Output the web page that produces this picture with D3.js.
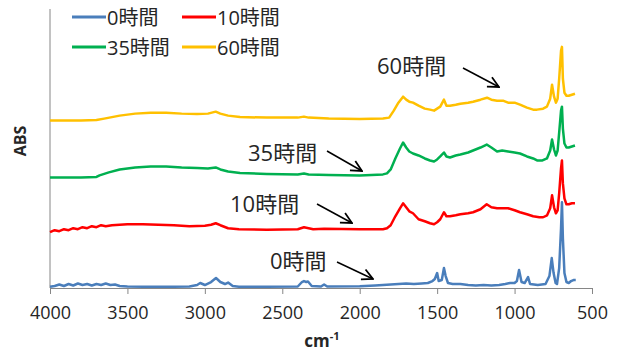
<!DOCTYPE html>
<html>
<head>
<meta charset="utf-8">
<script src="https://cdn.jsdelivr.net/npm/d3@7"></script>
<style>
  body { margin: 0; background: #fff; }
  text { font-family: "Open Sans", "Noto Sans CJK JP", sans-serif; fill: #262626; }
</style>
</head>
<body>
<div id="chart"></div>
<script>
// wavenumbers (cm-1) and absorbance (series are offset)
var wn0 = [4000,3970,3940,3910,3880,3850,3820,3790,3760,3730,3700,3670,3640,3610,3580,3550,3500,3400,3300,3200,3100,3050,3030,3000,2960,2928,2900,2870,2850,2820,2780,2600,2400,2373,2360,2345,2334,2310,2250,2230,2210,2000,1900,1850,1800,1750,1700,1650,1600,1560,1530,1515,1500,1490,1470,1456,1445,1430,1400,1350,1300,1250,1200,1150,1100,1060,1030,1000,985,971,955,935,913,900,850,800,775,760,748,735,726,712,700,694,688,678,665,650,635,620,605];
var abs0 = [0.013,0.02,0.035,0.02,0.04,0.025,0.045,0.03,0.04,0.025,0.04,0.03,0.045,0.03,0.035,0.02,0.015,0.013,0.013,0.013,0.015,0.03,0.05,0.03,0.06,0.10,0.06,0.04,0.055,0.02,0.013,0.013,0.015,0.06,0.07,0.06,0.065,0.02,0.015,0.035,0.015,0.018,0.025,0.03,0.035,0.04,0.045,0.04,0.045,0.05,0.07,0.09,0.15,0.07,0.08,0.20,0.12,0.05,0.04,0.04,0.03,0.025,0.03,0.025,0.03,0.04,0.05,0.05,0.07,0.18,0.06,0.05,0.11,0.04,0.03,0.04,0.12,0.30,0.15,0.05,0.04,0.20,0.60,0.86,0.50,0.15,0.06,0.05,0.07,0.08,0.08];

var wn10 = [4000,3970,3940,3910,3880,3850,3820,3790,3760,3730,3700,3670,3640,3600,3500,3400,3300,3200,3100,3000,2960,2930,2900,2850,2780,2600,2400,2360,2330,2300,2230,2000,1850,1824,1800,1770,1740,1720,1700,1680,1656,1620,1580,1546,1520,1500,1480,1456,1440,1417,1380,1350,1300,1268,1220,1180,1150,1113,1080,1042,1000,965,920,880,840,816,790,770,758,745,733,722,712,700,694,688,678,665,650,630,610];
var abs10 = [0.56,0.58,0.57,0.59,0.58,0.60,0.59,0.61,0.60,0.62,0.61,0.63,0.62,0.63,0.64,0.64,0.635,0.63,0.62,0.625,0.635,0.65,0.63,0.60,0.59,0.585,0.59,0.61,0.60,0.59,0.595,0.59,0.59,0.60,0.63,0.72,0.80,0.85,0.81,0.77,0.75,0.69,0.67,0.65,0.64,0.66,0.69,0.76,0.72,0.72,0.73,0.74,0.75,0.76,0.79,0.84,0.81,0.80,0.80,0.80,0.78,0.76,0.74,0.72,0.71,0.71,0.73,0.80,0.93,0.81,0.75,0.78,0.95,1.20,1.28,1.05,0.90,0.84,0.84,0.85,0.85];

var wn35 = [4000,3800,3700,3680,3620,3550,3450,3350,3250,3150,3050,2980,2930,2900,2850,2773,2600,2400,2360,2330,2200,2000,1850,1824,1800,1770,1740,1720,1700,1680,1656,1620,1580,1546,1520,1500,1480,1456,1440,1417,1380,1350,1300,1268,1220,1180,1150,1113,1080,1042,1000,965,920,880,855,820,791,770,758,745,733,722,712,700,694,688,678,665,650,630,610];
var abs35 = [1.11,1.11,1.115,1.13,1.16,1.19,1.21,1.22,1.22,1.21,1.205,1.20,1.21,1.19,1.17,1.155,1.145,1.14,1.15,1.14,1.135,1.13,1.14,1.15,1.19,1.30,1.40,1.46,1.41,1.37,1.35,1.33,1.30,1.28,1.27,1.29,1.32,1.36,1.32,1.31,1.33,1.34,1.36,1.38,1.41,1.44,1.41,1.37,1.38,1.37,1.36,1.35,1.32,1.30,1.28,1.28,1.30,1.38,1.49,1.39,1.33,1.38,1.56,1.78,1.82,1.60,1.45,1.41,1.41,1.42,1.43];

var wn60 = [4000,3800,3700,3650,3550,3450,3350,3250,3150,3050,2980,2930,2900,2850,2773,2600,2400,2360,2330,2200,2000,1850,1810,1780,1750,1720,1700,1680,1656,1620,1580,1546,1520,1500,1480,1456,1440,1417,1380,1350,1300,1268,1220,1178,1150,1113,1075,1042,1000,965,920,880,855,816,791,770,758,745,733,722,712,700,694,688,678,665,650,630,610];
var abs60 = [1.68,1.68,1.685,1.70,1.73,1.75,1.76,1.76,1.75,1.745,1.75,1.77,1.75,1.73,1.715,1.71,1.71,1.72,1.71,1.70,1.695,1.70,1.71,1.78,1.86,1.92,1.89,1.87,1.86,1.83,1.80,1.79,1.78,1.80,1.82,1.89,1.83,1.83,1.84,1.85,1.86,1.87,1.89,1.91,1.89,1.88,1.88,1.86,1.86,1.84,1.81,1.79,1.79,1.80,1.82,1.90,2.04,1.92,1.86,1.90,2.10,2.38,2.42,2.10,1.96,1.93,1.93,1.94,1.95];

var names = ["0時間", "10時間", "35時間", "60時間"];
var colors = ["#4a7ebb", "#ff0000", "#00b050", "#ffc000"];
var xTicks = [4000, 3500, 3000, 2500, 2000, 1500, 1000, 500];

var width = 620, height = 354;
var svg = d3.select("#chart").append("svg").attr("width", width).attr("height", height);

var x = d3.scaleLinear().domain([4000, 500]).range([50, 592]);
var y = d3.scaleLinear().domain([0, 2.8]).range([288, 9]);

// y axis line only
svg.append("line")
  .attr("x1", 50).attr("x2", 50).attr("y1", 9).attr("y2", 288)
  .style("stroke", "#868686").style("stroke-width", 1);

var xAxis = svg.append("g")
  .attr("transform", "translate(0,288)")
  .call(d3.axisBottom(x).tickValues(xTicks).tickSize(6).tickPadding(12).tickFormat(d3.format("d")));
xAxis.select(".domain").style("stroke", "#868686");
xAxis.selectAll(".tick line").style("stroke", "#868686");
xAxis.selectAll(".tick text").style("font-size", "18px").style("fill", "#262626");

var series = [[wn0, abs0], [wn10, abs10], [wn35, abs35], [wn60, abs60]];
var line = d3.line().x(function(d){ return x(d[0]); }).y(function(d){ return y(d[1]); });

for (var i = 0; i < series.length; i++) {
  var pts = d3.zip(series[i][0], series[i][1]);
  svg.append("path")
    .datum(pts)
    .attr("d", line)
    .style("fill", "none")
    .style("stroke", colors[i])
    .style("stroke-width", 2.5)
    .style("stroke-linejoin", "round");
}

// legend
var leg = [[72, 17, 107], [182, 17, 217], [72, 47, 107], [182, 47, 217]];
for (var i = 0; i < 4; i++) {
  svg.append("line")
    .attr("x1", leg[i][0]).attr("x2", leg[i][0] + 34)
    .attr("y1", leg[i][1]).attr("y2", leg[i][1])
    .style("stroke", colors[i]).style("stroke-width", 3);
  svg.append("text")
    .attr("x", leg[i][2]).attr("y", leg[i][1] + 8)
    .style("font-size", "20px")
    .text(names[i]);
}

// axis titles
svg.append("text")
  .attr("transform", "translate(26,141) rotate(-90)")
  .attr("text-anchor", "middle")
  .style("font-size", "16px").style("font-weight", "bold")
  .text("ABS");

var xt = svg.append("text")
  .attr("x", 322).attr("y", 347)
  .attr("text-anchor", "middle")
  .style("font-size", "17px").style("font-weight", "bold");
xt.append("tspan").text("cm");
xt.append("tspan").attr("dy", -7).style("font-size", "11px").text("-1");

// annotations with arrows
svg.append("defs").append("marker")
  .attr("id", "arr").attr("viewBox", "0 0 10 10")
  .attr("refX", 9).attr("refY", 5)
  .attr("markerWidth", 9).attr("markerHeight", 9)
  .attr("orient", "auto")
  .append("path").attr("d", "M1,1 L9,5 L1,9")
  .style("fill", "none").style("stroke", "#000").style("stroke-width", 1.3);

var notes = [
  ["0時間", 270, 269, 337, 262, 373, 279],
  ["10時間", 230, 212, 317, 204, 352, 223],
  ["35時間", 248, 161, 327, 151, 362, 171],
  ["60時間", 377, 74, 463, 68, 499, 87]
];
for (var i = 0; i < notes.length; i++) {
  var n = notes[i];
  svg.append("text").attr("x", n[1]).attr("y", n[2]).style("font-size", "22px").text(n[0]);
  svg.append("line")
    .attr("x1", n[3]).attr("y1", n[4]).attr("x2", n[5]).attr("y2", n[6])
    .style("stroke", "#000").style("stroke-width", 1.5)
    .attr("marker-end", "url(#arr)");
}
</script>
</body>
</html>
